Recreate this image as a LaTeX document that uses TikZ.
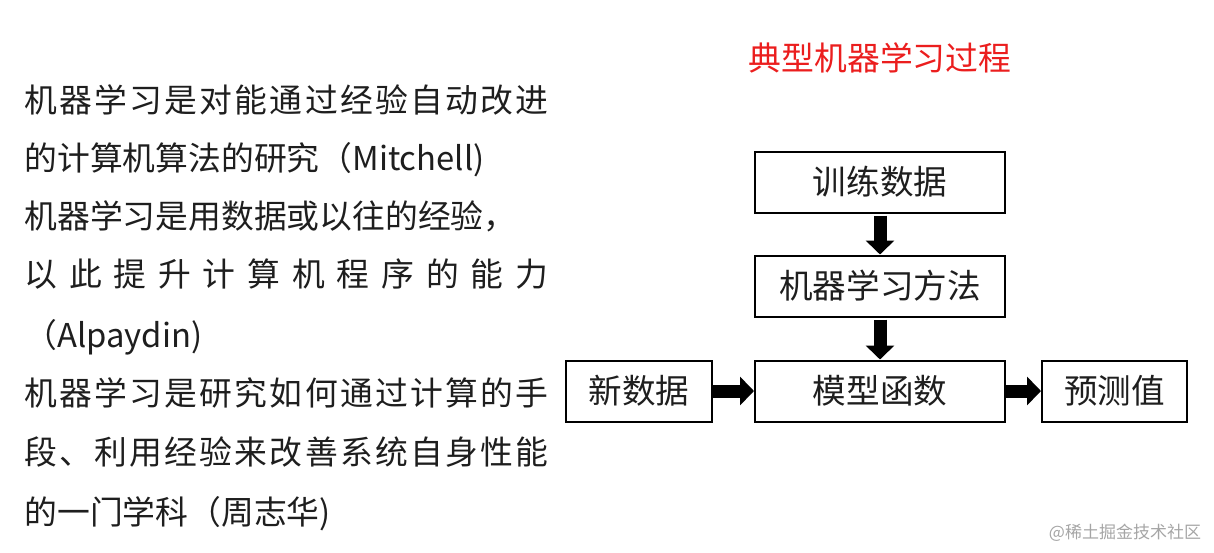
\documentclass[tikz,border=0pt]{standalone}
\usepackage{fontspec}
\setmainfont{Noto Sans CJK SC}
\usepackage{xcolor}
\usetikzlibrary{arrows.meta}
\definecolor{ink}{RGB}{30,30,30}
\definecolor{titlered}{RGB}{235,30,30}
\definecolor{mark}{RGB}{165,165,165}
\newcommand{\fullline}[1]{\makebox[262pt]{#1}}
\tikzset{
  txt/.style={anchor=base west, inner sep=0pt, text=ink, font=\fontsize{16.4pt}{20pt}\selectfont},
  box/.style={draw, line width=1pt, minimum height=30.5pt, inner sep=0pt, align=center, text=ink,
              font=\fontsize{16.8pt}{20pt}\selectfont},
  flow/.style={-{Triangle[length=7pt, width=14pt]}, line width=6.5pt},
}

\begin{document}
\begin{tikzpicture}[x=0.5pt, y=-0.5pt]
  \useasboundingbox (0,0) rectangle (1214,552);
  % definitions on the left
  \node[txt] (l1) at (24,112) {\fullline{机\hfill 器\hfill 学\hfill 习\hfill 是\hfill 对\hfill 能\hfill 通\hfill 过\hfill 经\hfill 验\hfill 自\hfill 动\hfill 改\hfill 进}};
  \node[txt] (l2) at (24,170) {的计算机算法的研究（Mitchell)};
  \node[txt] (l3) at (24,228) {机器学习是用数据或以往的经验，};
  \node[txt] (l4) at (24,286) {\fullline{以\hfill 此\hfill 提\hfill 升\hfill 计\hfill 算\hfill 机\hfill 程\hfill 序\hfill 的\hfill 能\hfill 力}};
  \node[txt] (l5) at (24,347) {（Alpaydin)};
  \node[txt] (l6) at (24,405) {\fullline{机\hfill 器\hfill 学\hfill 习\hfill 是\hfill 研\hfill 究\hfill 如\hfill 何\hfill 通\hfill 过\hfill 计\hfill 算\hfill 的\hfill 手}};
  \node[txt] (l7) at (24,464) {\fullline{段\hfill 、\hfill 利\hfill 用\hfill 经\hfill 验\hfill 来\hfill 改\hfill 善\hfill 系\hfill 统\hfill 自\hfill 身\hfill 性\hfill 能}};
  \node[txt] (l8) at (24,524) {的一门学科（周志华)};
  % process
  \node[text=titlered, font=\fontsize{16.4pt}{20pt}\selectfont] (title) at (880,58) {典型机器学习过程};
  \node[box, minimum width=125pt] (train) at (880,182) {训练数据};
  \node[box, minimum width=125pt] (method) at (880,286) {机器学习方法};
  \node[box, minimum width=125pt] (model) at (880,391) {模型函数};
  \node[box, minimum width=73pt] (new) at (639,391) {新数据};
  \node[box, minimum width=72.5pt] (pred) at (1114.5,391) {预测值};
  \draw[flow] ([yshift=-1pt]train.south) -- (method.north);
  \draw[flow] ([yshift=-1pt]method.south) -- (model.north);
  \draw[flow] (new.east) -- (model.west);
  \draw[flow] (model.east) -- (pred.west);
  \node[text=mark, font=\fontsize{8.5pt}{10pt}\selectfont] (wm) at (1125,533) {@稀土掘金技术社区};
\end{tikzpicture}
\end{document}
